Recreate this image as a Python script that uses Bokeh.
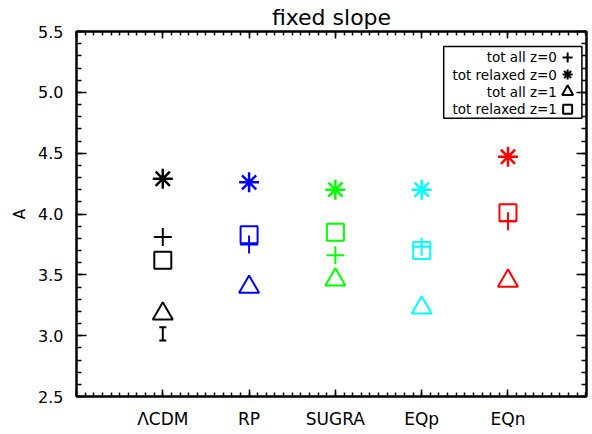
from bokeh.plotting import figure
from bokeh.models import (Range1d, SingleIntervalTicker, LinearAxis, NumeralTickFormatter,
                          Whisker, TeeHead, ColumnDataSource, CustomJSTickFormatter)
from bokeh.embed import file_html
from bokeh.resources import INLINE
from bokeh.core.properties import value

# ---------------- data ----------------
models = ["ΛCDM", "RP", "SUGRA", "EQp", "EQn"]
model_pos = [1, 2, 3, 4, 5]
colors = ["black", "blue", "#00ff00", "cyan", "red"]
tot_all_z0 = [3.81, 3.75, 3.66, 3.73, 3.94]
tot_relaxed_z0 = [4.29, 4.26, 4.20, 4.20, 4.47]
tot_all_z1 = [3.18, 3.40, 3.46, 3.23, 3.45]
tot_relaxed_z1 = [3.62, 3.83, 3.85, 3.70, 4.01]
bar_x = [1]
bar_lo = [2.96]
bar_hi = [3.07]

legend_labels = ["tot all z=0", "tot relaxed z=0", "tot all z=1", "tot relaxed z=1"]
legend_markers = ["cross", "asterisk", "triangle", "square"]

FONT = "DejaVu Sans"

# ---------------- figure ----------------
W, H = 592, 434
p = figure(width=W, height=H, x_range=Range1d(0, 5.91), y_range=Range1d(2.5, 5.5),
           output_backend="svg", toolbar_location=None, title="fixed slope",
           min_border_left=76, min_border_right=6, min_border_top=30, min_border_bottom=38,
           x_axis_type=None, y_axis_type=None)
p.grid.visible = False
p.outline_line_color = "black"
p.outline_line_width = 2
p.background_fill_color = "white"
p.border_fill_color = "white"
p.title.align = "center"
p.title.text_font = FONT
p.title.text_font_size = "22px"
p.title.text_font_style = "normal"
p.title.text_color = "black"
p.title.standoff = 4
p.title.offset = 0

p.extra_x_ranges = {"fx": Range1d(0, 1)}
p.extra_y_ranges = {"fy": Range1d(1, 0)}

blank = CustomJSTickFormatter(code="return ''")

def style_axis(ax, tin, tmin, labels=True, size="15px", standoff=10):
    ax.axis_line_color = "black"
    ax.axis_line_width = 2
    ax.major_tick_in = tin
    ax.major_tick_out = 0
    ax.minor_tick_in = tmin
    ax.minor_tick_out = 0
    ax.major_tick_line_width = 1.5
    ax.minor_tick_line_width = 1.5
    ax.major_tick_line_color = "black"
    ax.minor_tick_line_color = "black"
    ax.major_label_text_font = FONT
    ax.major_label_text_color = "black"
    ax.major_label_text_font_size = size
    ax.major_label_standoff = standoff if labels else 0

xb = LinearAxis(ticker=SingleIntervalTicker(interval=1, num_minor_ticks=10))
style_axis(xb, 7, 4, True, "17px", 12)
xb.major_label_overrides = {0: "", 1: models[0], 2: models[1], 3: models[2], 4: models[3], 5: models[4]}
p.add_layout(xb, "below")

xt = LinearAxis(ticker=SingleIntervalTicker(interval=1, num_minor_ticks=10), formatter=blank)
style_axis(xt, 7, 4, False)
p.add_layout(xt, "above")

yl = LinearAxis(ticker=SingleIntervalTicker(interval=0.5, num_minor_ticks=5),
                formatter=NumeralTickFormatter(format="0.0"))
style_axis(yl, 10, 5, True, "16px", 13)
yl.axis_label = "A"
yl.axis_label_text_font = FONT
yl.axis_label_text_font_size = "15px"
yl.axis_label_text_font_style = "normal"
yl.axis_label_text_color = "black"
yl.axis_label_standoff = 6
p.add_layout(yl, "left")

yr = LinearAxis(ticker=SingleIntervalTicker(interval=0.5, num_minor_ticks=5), formatter=blank)
style_axis(yr, 10, 5, False)
p.add_layout(yr, "right")

# ---------------- markers ----------------
src = ColumnDataSource(dict(x=model_pos, c=colors, a0=tot_all_z0, r0=tot_relaxed_z0,
                            a1=tot_all_z1, r1=tot_relaxed_z1))
p.scatter("x", "a0", source=src, marker="cross", size=18, line_color="c", line_width=2)
p.scatter("x", "r0", source=src, marker="asterisk", size=20, line_color="c", line_width=2.5)
p.scatter("x", "a1", source=src, marker="triangle", size=20, line_color="c",
          fill_color=None, line_width=2)
p.scatter("x", "r1", source=src, marker="square", size=17, line_color="c",
          fill_color=None, line_width=2)

wsrc = ColumnDataSource(dict(b=bar_x, lo=bar_lo, hi=bar_hi))
p.add_layout(Whisker(base="b", lower="lo", upper="hi", source=wsrc, dimension="height",
                     line_color="black", line_width=2,
                     upper_head=TeeHead(size=7, line_width=2, line_color="black"),
                     lower_head=TeeHead(size=7, line_width=2, line_color="black")))

# ---------------- legend (placed in frame fractions) ----------------
rows = [0.071, 0.118, 0.165, 0.213]
p.quad(left=[0.72], right=[0.991], top=[0.041], bottom=[0.238],
       fill_color="white", line_color="black", line_width=1.5,
       x_range_name="fx", y_range_name="fy")
p.text(x=[0.942] * 4, y=rows, text=legend_labels, text_align="right", text_baseline="middle",
       text_font=value(FONT), text_font_size="13.5px", text_color="black",
       x_range_name="fx", y_range_name="fy")
p.scatter(x=[0.963] * 4, y=rows, marker=legend_markers, size=[10, 10, 11, 9],
          line_color="black", fill_color=None, line_width=2,
          x_range_name="fx", y_range_name="fy")

open("out.html", "w").write(file_html(p, INLINE))
